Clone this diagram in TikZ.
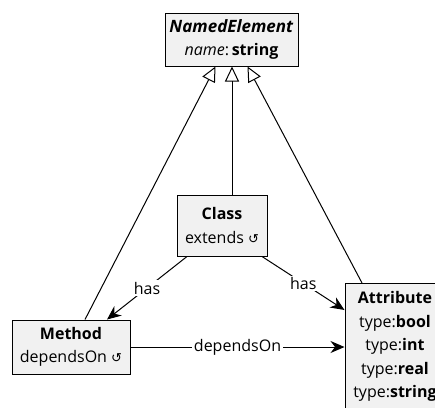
\documentclass[tikz,border=0pt]{standalone}
\usepackage{fontspec}
\setmainfont{Open Sans}
\newfontfamily\symfont{DejaVu Sans}
\usepackage{tikz}
\usetikzlibrary{calc}
\usetikzlibrary{arrows.meta}

\definecolor{boxfill}{HTML}{F1F1F1}
\tikzset{
    umlbox/.style={draw=black, fill=boxfill, line width=1pt, align=center, inner sep=0pt,
        font=\fontsize{16}{23.5}\selectfont},
    inherit/.style={line width=1pt, -{Triangle[open,length=15pt,width=14pt]}},
    assoc/.style={line width=1pt, -{Stealth[length=14pt,width=12pt]}},
    lbl/.style={fill=white, inner sep=1.5pt, font=\fontsize{16}{23.5}\selectfont}
}

\begin{document}
\begin{tikzpicture}[x=1pt,y=-1pt]
        \clip (0,0) rectangle (435,407);
        % classes
        \node[umlbox, minimum width=133, minimum height=53] (named) at (231.5,39.5)
            {\fontsize{17}{23.5}\selectfont\textbf{\textit{NamedElement}}\\\textit{name}:\,\textbf{string}};
        \node[umlbox, minimum width=90, minimum height=61] (class) at (222,225.5)
            {\textbf{Class}\\extends {\symfont\fontsize{13}{23.5}\selectfont ↺}};
        \node[umlbox, minimum width=118, minimum height=54] (method) at (71,347)
            {\textbf{Method}\\dependsOn {\symfont\fontsize{13}{23.5}\selectfont ↺}};
        \node[umlbox, minimum width=100, anchor=north, inner ysep=8pt] (attr) at (395,283)
            {\textbf{Attribute}\\type:\textbf{bool}\\type:\textbf{int}\\type:\textbf{real}\\type:\textbf{string}};

        % generalisation
        \draw[inherit] ([xshift=14pt]method.north) -- ([xshift=-16pt]named.south);
        \draw[inherit] ([xshift=10pt]class.north) -- ([xshift=0.5pt]named.south);
        \draw[inherit] ([xshift=-33pt]attr.north) -- ([xshift=16pt]named.south);

        % associations
        \draw[assoc] ([xshift=-35pt]class.south) -- node[lbl] {has} ([xshift=36pt]method.north);
        \draw[assoc] ([xshift=40pt]class.south) -- node[lbl] {has} ([yshift=-27pt]attr.north west);
        \draw[assoc] (method.east) -- node[lbl] {dependsOn} (method.east -| attr.west);
    \end{tikzpicture}
\end{document}
